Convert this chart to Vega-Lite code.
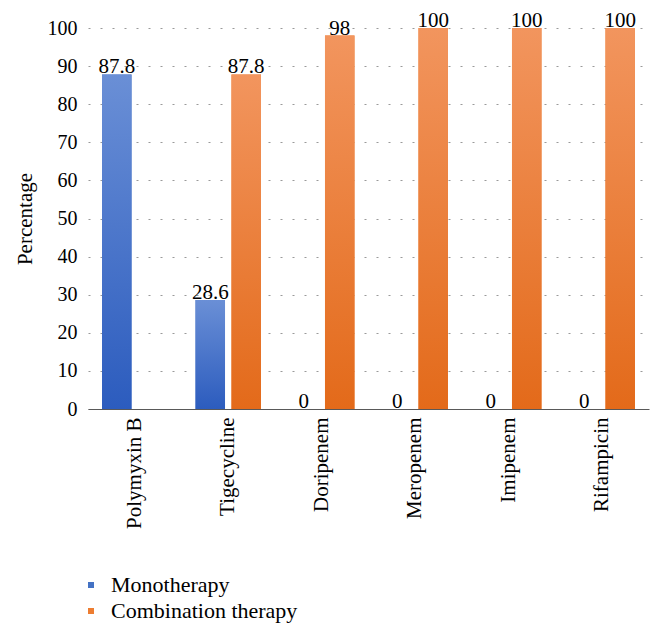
{
  "$schema": "https://vega.github.io/schema/vega-lite/v6.json",
  "width": 561,
  "height": 381,
  "autosize": "none",
  "padding": {"left": 88, "top": 28, "right": 13, "bottom": 228},
  "config": {
    "view": {"stroke": null},
    "font": "Liberation Serif"
  },
  "data": {
    "values": [
      {"drug": "Polymyxin B", "series": "Monotherapy", "value": 87.8},
      {"drug": "Tigecycline", "series": "Monotherapy", "value": 28.6},
      {"drug": "Tigecycline", "series": "Combination therapy", "value": 87.8},
      {"drug": "Doripenem", "series": "Monotherapy", "value": 0},
      {"drug": "Doripenem", "series": "Combination therapy", "value": 98},
      {"drug": "Meropenem", "series": "Monotherapy", "value": 0},
      {"drug": "Meropenem", "series": "Combination therapy", "value": 100},
      {"drug": "Imipenem", "series": "Monotherapy", "value": 0},
      {"drug": "Imipenem", "series": "Combination therapy", "value": 100},
      {"drug": "Rifampicin", "series": "Monotherapy", "value": 0},
      {"drug": "Rifampicin", "series": "Combination therapy", "value": 100}
    ]
  },
  "encoding": {
    "x": {
      "field": "drug", "type": "nominal", "sort": null,
      "scale": {"paddingInner": 0.3, "paddingOuter": 0.15},
      "axis": {
        "title": null, "labelAngle": -90, "labelFontSize": 21, "labelColor": "#000",
        "labelPadding": 8, "ticks": false, "domainColor": "#595959", "domainWidth": 1.2,
        "labelFont": "Liberation Serif"
      }
    },
    "xOffset": {
      "field": "series", "type": "nominal", "sort": ["Monotherapy", "Combination therapy"],
      "scale": {"paddingInner": 0.18, "paddingOuter": 0}
    },
    "y": {
      "field": "value", "type": "quantitative",
      "scale": {"domain": [0, 100], "nice": false},
      "axis": {
        "title": "Percentage", "titleFontSize": 21, "titleFontWeight": "normal", "titleColor": "#000",
        "titleFont": "Liberation Serif", "titlePadding": 12,
        "values": [0, 10, 20, 30, 40, 50, 60, 70, 80, 90, 100],
        "labelFontSize": 20, "labelColor": "#000", "labelPadding": 11, "labelFont": "Liberation Serif",
        "domain": false, "ticks": false,
        "grid": true, "gridColor": "#9a9a9a", "gridDash": [2, 10], "gridWidth": 1.2
      }
    }
  },
  "layer": [
    {
      "mark": {"type": "bar"},
      "encoding": {
        "color": {
          "field": "series", "type": "nominal",
          "scale": {"domain": ["Monotherapy", "Combination therapy"], "range": ["#4472c4", "#ed7d31"]},
          "legend": {
            "title": null, "orient": "none", "legendX": -8, "legendY": 546, "direction": "vertical",
            "symbolType": "square", "symbolSize": 36, "labelFontSize": 22, "labelColor": "#000",
            "labelFont": "Liberation Serif", "rowPadding": 4, "labelOffset": 9, "labelLimit": 0
          }
        }
      }
    },
    {
      "transform": [{"filter": "datum.series === 'Monotherapy'"}],
      "mark": {
        "type": "bar",
        "fill": {"gradient": "linear", "x1": 0, "y1": 0, "x2": 0, "y2": 1,
          "stops": [{"offset": 0, "color": "#6a8fd6"}, {"offset": 1, "color": "#2c5cbe"}]}
      }
    },
    {
      "transform": [{"filter": "datum.series === 'Combination therapy'"}],
      "mark": {
        "type": "bar",
        "fill": {"gradient": "linear", "x1": 0, "y1": 0, "x2": 0, "y2": 1,
          "stops": [{"offset": 0, "color": "#f2955e"}, {"offset": 1, "color": "#e36a1a"}]}
      }
    },
    {
      "mark": {"type": "text", "baseline": "alphabetic", "dy": -1, "fontSize": 21, "color": "#000", "font": "Liberation Serif"},
      "encoding": {"text": {"field": "value", "type": "quantitative"}}
    }
  ]
}
